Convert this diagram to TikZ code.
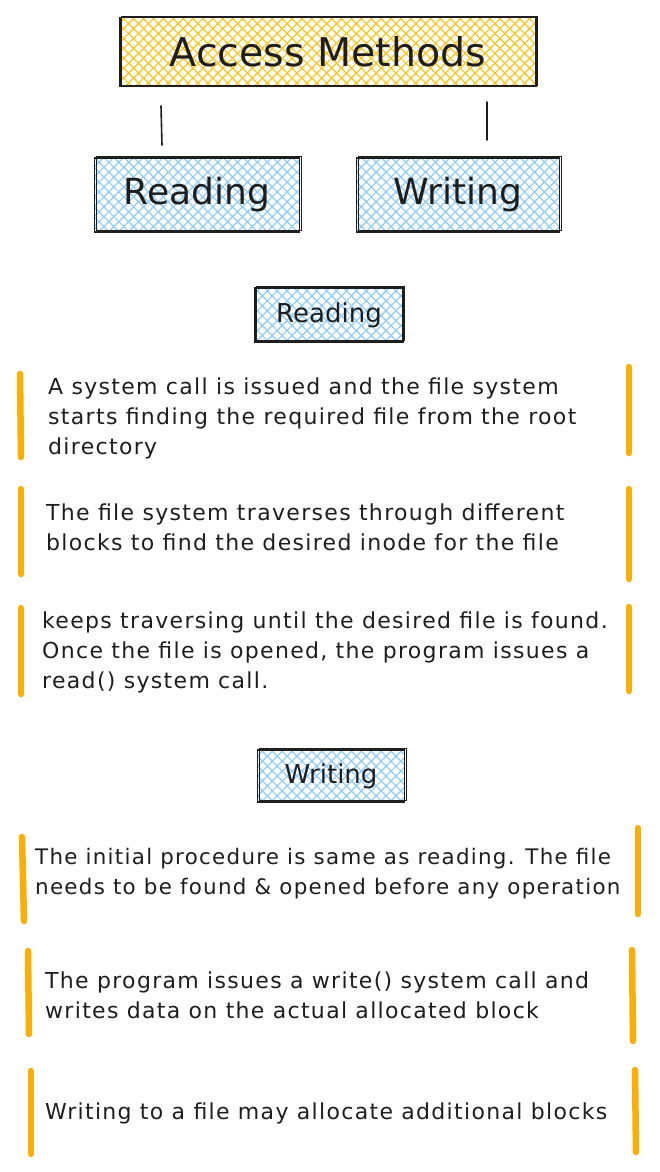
\documentclass[tikz,border=0pt]{standalone}
\usepackage{fontspec}
\setmainfont{DejaVu Sans}
\newfontfamily\notefont[LetterSpace=6]{DejaVu Sans}
\usetikzlibrary{patterns.meta}

\definecolor{ink}{HTML}{1E1E1E}
\definecolor{hatchyellow}{HTML}{FCC419}
\definecolor{hatchblue}{HTML}{8DCBFB}
\definecolor{barorange}{HTML}{F9AE08}

\tikzset{
  hatchbox/.style={draw=ink, line width=1.5pt, inner sep=0pt, text=ink,
    preaction={pattern={Lines[angle=45,distance=7pt,line width=1.2pt]}, pattern color=#1},
    pattern={Lines[angle=-45,distance=7pt,line width=1.2pt]}, pattern color=#1,
    postaction={draw=ink, line width=0.7pt, transform canvas={xshift=1.5pt,yshift=1.2pt}}},
  note/.style={anchor=west, inner sep=0pt, align=left, text=ink,
    font=\notefont\fontsize{22}{30}\selectfont},
  bar/.style={draw=barorange, line width=6.5pt, line cap=round},
  stem/.style={draw=ink, line width=1.6pt, line cap=round}
}

\begin{document}
\begin{tikzpicture}[x=1pt,y=-1pt]
  \useasboundingbox (0,0) rectangle (660,1172);

  %header boxes
  \node [hatchbox=hatchyellow, minimum width=416pt, minimum height=69pt,
    font=\fontsize{39.5}{42}\selectfont] (access) at (328,52) {Access Methods};
  \node [hatchbox=hatchblue, minimum width=205pt, minimum height=74pt,
    font=\fontsize{36}{40}\selectfont] (read) at (197,195) {Reading};
  \node [hatchbox=hatchblue, minimum width=203pt, minimum height=74pt,
    font=\fontsize{36}{40}\selectfont] (write) at (458,195) {Writing};

  %stems under the header
  \coordinate (s1) at (161,106);
  \coordinate (s2) at (162,145);
  \coordinate (s3) at (487,102);
  \coordinate (s4) at (487,140);
  \draw [stem] (s1) -- (s2);
  \draw [stem] (s3) -- (s4);

  %reading section
  \node [hatchbox=hatchblue, minimum width=148pt, minimum height=54pt,
    font=\fontsize{26}{28}\selectfont] (readhead) at (329,315) {Reading};

  \node [note] (r1) at (48,418) {A system call is issued and the file system\\starts finding the required file from the root\\directory};
  \node [note] (r2) at (46,527) {The file system traverses through different\\blocks to find the desired inode for the file};
  \node [note] (r3) at (42,652) {keeps traversing until the desired file is found.\\Once the file is opened, the program issues a\\read() system call.};

  \draw [bar] (20,374) -- (21,457);
  \draw [bar] (629,367) -- (629,453);
  \draw [bar] (21,489) -- (21,574);
  \draw [bar] (629,489) -- (629,579);
  \draw [bar] (21,608) -- (21,694);
  \draw [bar] (629,607) -- (629,691);

  %writing section
  \node [hatchbox=hatchblue, minimum width=147pt, minimum height=52pt,
    font=\fontsize{26}{28}\selectfont] (writehead) at (331,776) {Writing};

  \node [note, font=\notefont\fontsize{21.4}{30}\selectfont] (w1) at (35,874) {The initial procedure is same as reading. The file\\needs to be found \& opened before any operation};
  \node [note] (w2) at (45,995) {The program issues a write() system call and\\writes data on the actual allocated block};
  \node [note] (w3) at (45,1113) {Writing to a file may allocate additional blocks};

  \draw [bar] (22,837) -- (24,921);
  \draw [bar] (638,828) -- (638,914);
  \draw [bar] (28,951) -- (29,1034);
  \draw [bar] (632,950) -- (633,1041);
  \draw [bar] (31,1071) -- (31,1154);
  \draw [bar] (635,1070) -- (636,1152);
\end{tikzpicture}
\end{document}
